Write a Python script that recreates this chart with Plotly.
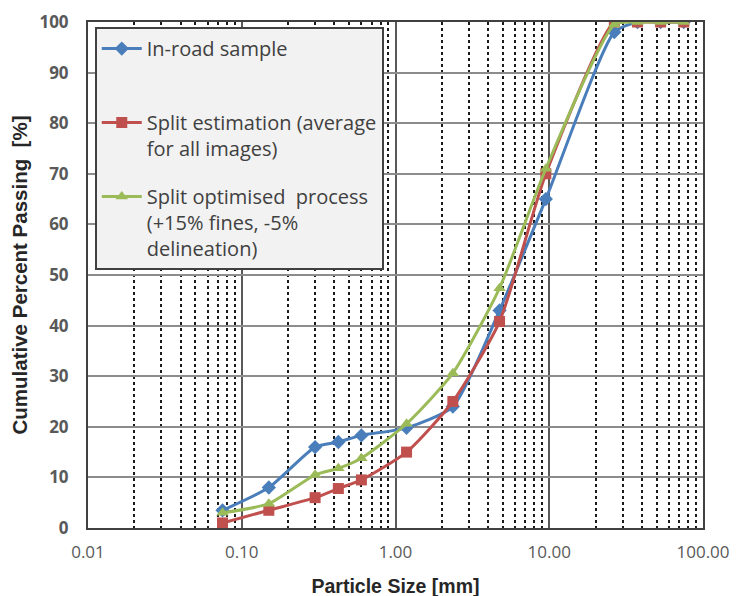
import plotly.graph_objects as go

sizes_mm = [0.075, 0.15, 0.3, 0.425, 0.6, 1.18, 2.36, 4.75, 9.5, 26.5, 37.5, 53, 75]
in_road = [3.5, 8, 16, 17, 18.3, 19.8, 24, 43, 65, 98, 100, 100, 100]
split_est = [1, 3.5, 6, 7.8, 9.5, 15, 25, 40.8, 70, 100, 100, 100, 100]
split_opt = [3, 4.8, 10.5, 11.8, 13.8, 20.6, 30.6, 47.4, 71, 99.5, 100, 100, 100]

names = ["In-road sample<br> ",
         "Split estimation (average<br>for all images)",
         "Split optimised  process<br>(+15% fines, -5%<br>delineation)"]
colors = ["#4A7EBB", "#C0504D", "#9BBB59"]
symbols = ["diamond", "square", "triangle-up"]
series = [in_road, split_est, split_opt]

x_major = [0.01, 0.1, 1, 10, 100]
x_labels = ["0.01", "0.10", "1.00", "10.00", "100.00"]
x_minor = [m * d for d in [0.01, 0.1, 1, 10] for m in range(2, 10)]

fig = go.Figure()
for i, (nm, c, s, ys) in enumerate(zip(names, colors, symbols, series)):
    fig.add_trace(go.Scatter(
        x=sizes_mm, y=ys, name=nm, mode="lines+markers",
        line=dict(color=c, width=3, shape="spline", smoothing=0.6),
        marker=dict(color=c, symbol=s, size=11),
        legendgroup=f"g{i}",
    ))

fig.update_layout(
    width=748, height=596,
    margin=dict(l=80, r=53, t=14, b=76),
    paper_bgcolor="white", plot_bgcolor="white",
    font=dict(family="Open Sans", size=17, color="#595959"),
    showlegend=True,
    legend=dict(
        x=0.011, y=0.99, xanchor="left", yanchor="top",
        bgcolor="#F2F2F2", bordercolor="#404040", borderwidth=2,
        font=dict(family="Open Sans", size=20, color="#404040"),
        valign="top", traceorder="grouped", tracegroupgap=19,
        itemwidth=40,
    ),
    xaxis=dict(
        type="log", range=[-2, 2], automargin=False,
        tickvals=x_major, ticktext=x_labels,
        showgrid=True, gridcolor="#595959", gridwidth=1.5,
        minor=dict(tickvals=x_minor, showgrid=True, gridcolor="#1a1a1a",
                   griddash="3px,3px", gridwidth=1.5, ticks=""),
        showline=True, linecolor="#404040", linewidth=2, mirror=True,
        ticks="", zeroline=False, ticklabelstandoff=8,
        tickfont=dict(family="Open Sans", size=17, color="#595959"),
        title=dict(text="Particle Size [mm]", standoff=17,
                   font=dict(family="Liberation Sans", size=19.5, color="#262626", weight="bold")),
    ),
    yaxis=dict(
        range=[0, 100], tickvals=list(range(0, 101, 10)), automargin=False,
        showgrid=True, gridcolor="#8C8C8C", gridwidth=1.5,
        showline=True, linecolor="#404040", linewidth=2, mirror=True,
        ticks="", zeroline=False, ticklabelstandoff=14,
        tickfont=dict(family="Open Sans", size=17, color="#595959", weight="bold"),
        title=dict(text="Cumulative Percent Passing  [%]", standoff=8,
                   font=dict(family="Liberation Sans", size=20.5, color="#262626", weight="bold")),
    ),
)

fig.write_html("out.html")
